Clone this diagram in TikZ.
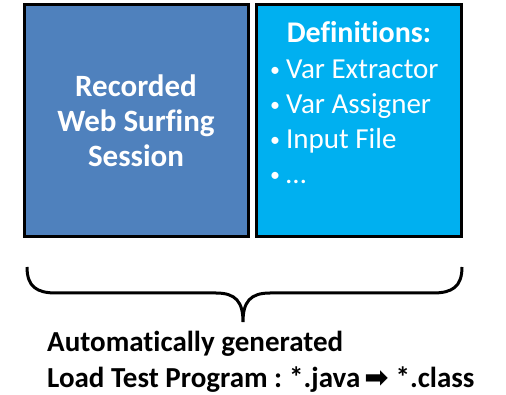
\documentclass[tikz,border=0pt]{standalone}
\usepackage{fontspec}
\setmainfont{Carlito}[Ligatures=NoCommon]
\newfontfamily\symfont{DejaVu Sans}
\usetikzlibrary{positioning}
\definecolor{sessblue}{RGB}{79, 129, 189}
\definecolor{defcyan}{RGB}{0, 176, 240}
\newcommand{\smallbullet}{\raisebox{2pt}{\fontsize{20}{20}\selectfont•}}
\tikzset{
  panel/.style={draw=black, line width=3pt, minimum height=232pt, inner sep=0pt},
  boxtext/.style={text=white, font=\fontsize{29}{35}\selectfont},
  captext/.style={font=\bfseries\fontsize{29}{36}\selectfont, anchor=base west, inner sep=0pt},
}
\begin{document}
\begin{tikzpicture}[x=1pt, y=-1pt]
  \useasboundingbox (0,0) rectangle (506,395);

  % Recorded session
  \node[panel, fill=sessblue, minimum width=224pt, align=center, text=white,
        font=\bfseries\fontsize{31}{35}\selectfont] (session) at (136,121)
        {Recorded\\Web Surfing\\Session};

  % Definitions
  \node[panel, fill=defcyan, minimum width=205pt] (defs) at (358.5,121) {};
  \node[boxtext, font=\bfseries\fontsize{30}{35}\selectfont, anchor=base] (defhead) at (359,43) {Definitions:};
  \foreach \txt [count=\i] in {Var Extractor, Var Assigner, Input File, …}
    \node[boxtext, anchor=base west, inner sep=0pt] (item\i) at (270,{44+34.8*\i}) {\smallbullet\hspace{6pt}\txt};

  % Brace
  \coordinate (braceL) at (27,267);
  \coordinate (braceTip) at (243,322);
  \coordinate (braceR) at (462,267);
  \draw[line width=3pt]
    (braceL) .. controls (27,287) and (37,293) .. (56,293)
    -- (216,293) .. controls (236,293) and (243,302) .. (braceTip)
    .. controls (243,302) and (250,293) .. (270,293)
    -- (433,293) .. controls (452,293) and (462,287) .. (braceR);

  % Caption
  \node[captext] (gen) at (47,351) {Automatically generated};
  \node[captext] (prog) at (47,387)
    {Load Test Program :\hspace{7pt}*.java\hspace{4pt}{\symfont ➡}\hspace{7pt}*.class};
\end{tikzpicture}
\end{document}
